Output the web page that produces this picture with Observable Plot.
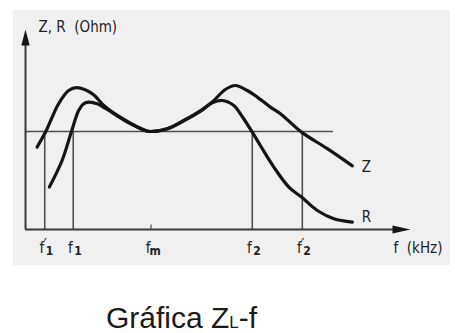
<!DOCTYPE html>
<html>
<head>
<meta charset="utf-8">
<script src="https://cdn.jsdelivr.net/npm/d3@7"></script>
<script src="https://cdn.jsdelivr.net/npm/@observablehq/plot@0.6"></script>
<style>
  html, body { margin: 0; padding: 0; background: #ffffff; }
  #wrap { position: relative; width: 455px; height: 333px; overflow: hidden; }
  #panel { position: absolute; left: 13px; top: 10px; width: 437px; height: 255px; background: #f0f0f0; }
  #chart { position: absolute; left: 0; top: 0; }
  #chart svg { background: transparent; }
  #caption { position: absolute; left: 106px; top: 303px; font-family: "Liberation Sans", Arial, sans-serif;
             font-size: 30px; line-height: 30px; color: #1a1a1a; white-space: nowrap; }
  #caption sub { font-size: 17px; vertical-align: baseline; position: relative; top: 0px; }
</style>
</head>
<body>
<div id="wrap">
  <div id="panel"></div>
  <div id="chart"></div>
  <div id="caption">Gráfica Z<sub>L</sub>-f</div>
</div>
<script>
// ---- data (relative frequency 0..100, relative impedance 0..100) ----
const levelValue = 49;          // horizontal reference level
const levelEnd = 80;            // where the reference line stops
const tickPos   = [5.0, 12.4, 32.6, 58.9, 71.9];
const tickSub   = ["1", "1", "m", "2", "2"];
const tickPrime = [true, false, false, false, true];
const verticalIdx = [0, 1, 3, 4]; // frequencies with vertical lines (fm has only a tick)

const zX = [3.0, 5.2, 8.6, 11.2, 13.4, 17.3, 20.8, 26.0, 31.2, 32.5, 36.8, 41.1, 45.5, 48.5, 51.9, 54.5, 57.6, 60.2, 63.6, 66.2, 71.7, 78.4, 84.9];
const zY = [41.2, 48.7, 62.9, 69.5, 70.9, 67.9, 61.2, 54.5, 49.5, 49.0, 50.4, 54.5, 59.5, 63.7, 70.0, 72.0, 69.5, 66.2, 61.2, 57.9, 48.7, 40.4, 31.8];

const rX = [6.2, 9.5, 11.9, 13.8, 15.1, 16.4, 18.6, 20.8, 26.0, 31.2, 32.5, 36.8, 41.1, 45.5, 48.5, 51.1, 54.1, 56.1, 58.9, 61.0, 64.5, 68.4, 71.7, 75.8, 80.1, 84.9];
const rY = [21.2, 34.5, 48.7, 59.5, 62.9, 63.7, 62.9, 60.5, 54.2, 49.4, 49.0, 50.3, 54.3, 59.2, 63.3, 64.5, 62.0, 57.0, 48.7, 42.0, 31.2, 21.2, 16.2, 9.5, 5.4, 3.7];

const yAxisLabel = "Z, R  (Ohm)";
const xAxisLabel = "f  (kHz)";
const curveNames = ["Z", "R"];

// ---- tables built from the arrays ----
const zData = zX.map((x, i) => ({x, y: zY[i]}));
const rData = rX.map((x, i) => ({x, y: rY[i]}));
const ticks = tickPos.map((x, i) => ({x, sub: tickSub[i], prime: tickPrime[i]}));
const verticals = verticalIdx.map(i => ({x: tickPos[i]}));
const fm = ticks.filter(d => d.sub === "m");
const digitTicks = ticks.filter(d => d.sub !== "m");
const primeTicks = ticks.filter(d => d.prime);
const zEnd = [{name: curveNames[0], x: zX[zX.length - 1], y: zY[zY.length - 1]}];
const rEnd = [{name: curveNames[1], x: rX[rX.length - 1], y: rY[rY.length - 1]}];

// filled arrowheads (custom symbols, tip at the anchor point)
const arrowUp = {draw(ctx) { ctx.moveTo(0, 0); ctx.lineTo(-4.2, 16); ctx.lineTo(4.2, 16); ctx.closePath(); }};
const arrowRight = {draw(ctx) { ctx.moveTo(0, 0); ctx.lineTo(-18, -4); ctx.lineTo(-18, 4); ctx.closePath(); }};

const font = "'DejaVu Sans Condensed', 'DejaVu Sans', sans-serif";
const ink = "#151515";
const axisInk = "#3a3a3a";
const gridInk = "#505050";
const txt = "#222";

const chart = Plot.plot({
  width: 455,
  height: 270,
  marginLeft: 25,
  marginRight: 45,
  marginTop: 29,
  marginBottom: 41,
  x: {domain: [0, 100], axis: null},
  y: {domain: [0, 100], axis: null},
  style: {background: "transparent", fontFamily: font},
  marks: [
    // reference level and vertical frequency lines
    Plot.ruleY([levelValue], {x1: 0, x2: levelEnd, stroke: gridInk, strokeWidth: 1.6}),
    Plot.ruleX(verticals, {x: "x", y1: 0, y2: levelValue, stroke: gridInk, strokeWidth: 1.6}),
    Plot.ruleX(fm, {x: "x", y1: 0, y2: 2.2, stroke: gridInk, strokeWidth: 1.2}),
    // axes
    Plot.ruleY([0], {x1: 0, x2: 96, stroke: axisInk, strokeWidth: 2}),
    Plot.ruleX([0], {y1: 0, y2: 93, stroke: axisInk, strokeWidth: 2}),
    Plot.dot([{x: 0, y: 100}], {x: "x", y: "y", symbol: arrowUp, fill: ink, stroke: "none"}),
    Plot.dot([{x: 100, y: 0}], {x: "x", y: "y", symbol: arrowRight, fill: ink, stroke: "none"}),
    // curves
    Plot.line(zData, {x: "x", y: "y", curve: "catmull-rom", stroke: ink, strokeWidth: 3.2}),
    Plot.line(rData, {x: "x", y: "y", curve: "catmull-rom", stroke: ink, strokeWidth: 3.2}),
    // curve labels
    Plot.text(zEnd, {x: "x", y: "y", text: "name", dx: 14, dy: 1.5, fontSize: 15, fill: txt}),
    Plot.text(rEnd, {x: "x", y: "y", text: "name", dx: 14, dy: -4.5, fontSize: 15, fill: txt}),
    // tick labels: "f", prime and subscript
    Plot.text(ticks, {x: "x", y: 0, text: () => "f", textAnchor: "end", dx: -0.5, dy: 19, fontSize: 15, fill: txt}),
    Plot.text(primeTicks, {x: "x", y: 0, text: () => "′", textAnchor: "start", dx: -1, dy: 16, fontSize: 15, fill: txt}),
    Plot.text(digitTicks, {x: "x", y: 0, text: "sub", textAnchor: "start", dx: 1, dy: 22, fontSize: 12, fontWeight: "bold", fill: txt}),
    Plot.text(fm, {x: "x", y: 0, text: "sub", textAnchor: "start", dx: -1.5, dy: 22, fontSize: 12, fontWeight: "bold", fill: txt}),
    // axis titles
    Plot.text([{x: 100, y: 0}], {x: "x", y: "y", text: () => xAxisLabel, textAnchor: "start", dx: -17, dy: 19, fontSize: 15, fill: txt}),
    Plot.text([{x: 0, y: 100}], {x: "x", y: "y", text: () => yAxisLabel, textAnchor: "start", dx: 13, dy: -2, fontSize: 15, fill: txt})
  ]
});
document.getElementById("chart").appendChild(chart);
</script>
</body>
</html>
